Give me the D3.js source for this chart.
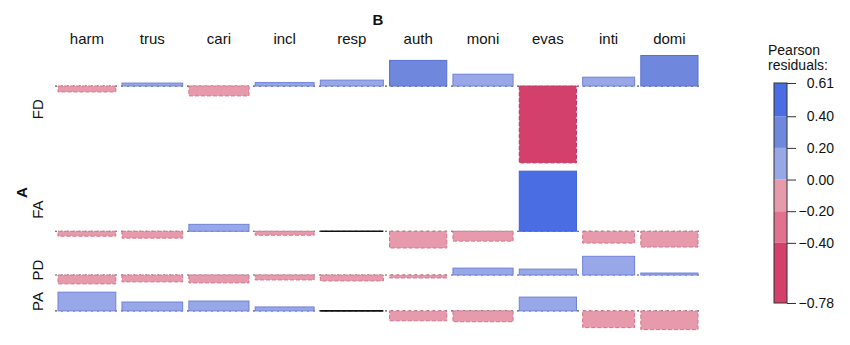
<!DOCTYPE html>
<html>
<head>
<meta charset="utf-8">
<script src="https://cdn.jsdelivr.net/npm/d3@7"></script>
<style>
  body { margin: 0; background: #fff; }
  text { font-family: "Liberation Sans", Arial, sans-serif; fill: #111; }
</style>
</head>
<body>
<svg id="assoc"></svg>
<script>
// Association plot: Pearson residuals of A (rows) x B (columns)
const colNames = ["harm", "trus", "cari", "incl", "resp", "auth", "moni", "evas", "inti", "domi"];
const rowNames = ["FD", "FA", "PD", "PA"];
// relative sqrt(expected) per column -> bar widths
const colWeight = [0.99, 1.04, 1.03, 1.01, 1.08, 0.98, 1.03, 0.98, 0.89, 0.98];
const resFD = [-0.06, 0.03, -0.10, 0.035, 0.06, 0.26, 0.12, -0.78, 0.09, 0.31];
const resFA = [-0.05, -0.07, 0.07, -0.04, 0.00, -0.17, -0.10, 0.61, -0.12, -0.16];
const resPD = [-0.09, -0.07, -0.08, -0.05, -0.06, -0.03, 0.07, 0.06, 0.19, 0.02];
const resPA = [0.19, 0.09, 0.10, 0.04, 0.00, -0.10, -0.11, 0.14, -0.17, -0.19];
const legendTicks = [0.61, 0.40, 0.20, 0.00, -0.20, -0.40, -0.78];
const legendCuts = [-0.78, -0.4, -0.2, 0, 0.2, 0.4, 0.61];

const residuals = [resFD, resFA, resPD, resPA];

const W = 850, H = 345;
const svg = d3.select("#assoc").attr("width", W).attr("height", H);

// colours
const fillCol = d3.scaleThreshold()
  .domain([-0.4, -0.2, 0, 0.2, 0.4])
  .range(["#d3406b", "#e0718f", "#e89aad", "#98a7e7", "#6f88dd", "#4a6de3"]);
const lineCol = d3.scaleThreshold()
  .domain([-0.4, -0.2, 0, 0.2, 0.4])
  .range(["#b83560", "#cc5a7b", "#d4728c", "#6f83d8", "#5670d4", "#3f62d8"]);

// x layout: cumulative column weights with a small gap
const gap = 0.106;
const colStart = [];
let acc = 0;
colWeight.forEach((w, i) => { colStart.push(acc); acc += w + (i < colWeight.length - 1 ? gap : 0); });
const x = d3.scaleLinear().domain([0, acc]).range([58, 698]);

// y layout: one linear scale per row, sized by its residual extent
const k = 98.5, rowGap = 8.3, top0 = 55.5;
let yCur = top0;
const rows = residuals.map((vals, i) => {
  const maxPos = Math.max(0, d3.max(vals));
  const maxNeg = Math.max(0, -d3.min(vals));
  const top = yCur, bottom = top + (maxPos + maxNeg) * k;
  yCur = bottom + rowGap;
  return { name: rowNames[i], vals, top, bottom,
    y: d3.scaleLinear().domain([maxPos, -maxNeg]).range([top, bottom]) };
});

const plot = svg.append("g");

rows.forEach((r, i) => {
  const g = plot.append("g");
  const y0 = r.y(0);
  // dotted baseline
  g.append("line")
    .attr("x1", x(0) - 3).attr("x2", x(acc) + 3)
    .attr("y1", y0).attr("y2", y0)
    .attr("stroke", "#555").attr("stroke-width", 1.2)
    .attr("stroke-dasharray", "2,4");

  const cells = r.vals.map((v, j) => ({ v, j }));
  g.selectAll("rect.bar")
    .data(cells.filter(d => d.v !== 0))
    .join("rect")
    .attr("class", "bar")
    .attr("x", d => x(colStart[d.j]))
    .attr("width", d => x(colStart[d.j] + colWeight[d.j]) - x(colStart[d.j]))
    .attr("y", d => Math.min(r.y(d.v), y0))
    .attr("height", d => Math.abs(r.y(d.v) - y0))
    .attr("fill", d => fillCol(d.v))
    .attr("stroke", d => lineCol(d.v))
    .attr("stroke-width", 1)
    .attr("stroke-dasharray", d => d.v < 0 ? "4,2" : null);

  // zero residuals drawn as a plain line
  g.selectAll("line.zero")
    .data(cells.filter(d => d.v === 0))
    .join("line")
    .attr("class", "zero")
    .attr("x1", d => x(colStart[d.j]))
    .attr("x2", d => x(colStart[d.j] + colWeight[d.j]))
    .attr("y1", y0).attr("y2", y0)
    .attr("stroke", "#111").attr("stroke-width", 1.6);

  // row label (last one sits between its top and baseline, as in the original)
  const mid = i === rows.length - 1 ? (r.top + y0) / 2 : (r.top + r.bottom) / 2;
  g.append("text")
    .attr("transform", `translate(43,${mid}) rotate(-90)`)
    .attr("text-anchor", "middle")
    .attr("font-size", 15)
    .text(r.name);
});

// column labels
plot.selectAll("text.col")
  .data(colNames)
  .join("text")
  .attr("class", "col")
  .attr("x", (d, j) => x(colStart[j] + colWeight[j] / 2))
  .attr("y", 44)
  .attr("text-anchor", "middle")
  .attr("font-size", 15)
  .text(d => d);

// variable names
svg.append("text")
  .attr("x", (x(0) + x(acc)) / 2).attr("y", 25)
  .attr("text-anchor", "middle")
  .attr("font-size", 15).attr("font-weight", "bold")
  .text("B");
svg.append("text")
  .attr("transform", `translate(27,${(rows[0].top + rows[rows.length - 1].bottom) / 2}) rotate(-90)`)
  .attr("text-anchor", "middle")
  .attr("font-size", 15).attr("font-weight", "bold")
  .text("A");

// legend
const ly = d3.scaleLinear().domain([0.61, -0.78]).range([83, 303]);
const leg = svg.append("g");
leg.append("text").attr("x", 768).attr("y", 55).attr("font-size", 14).text("Pearson");
leg.append("text").attr("x", 768).attr("y", 70).attr("font-size", 14).text("residuals:");

const bins = d3.pairs(legendCuts);
leg.selectAll("rect.bin")
  .data(bins)
  .join("rect")
  .attr("class", "bin")
  .attr("x", 774).attr("width", 13)
  .attr("y", d => ly(d[1]))
  .attr("height", d => ly(d[0]) - ly(d[1]))
  .attr("fill", d => fillCol((d[0] + d[1]) / 2));
leg.append("rect")
  .attr("x", 774).attr("width", 13)
  .attr("y", ly(0.61)).attr("height", ly(-0.78) - ly(0.61))
  .attr("fill", "none").attr("stroke", "#333").attr("stroke-width", 1);

const axis = d3.axisRight(ly)
  .tickValues(legendTicks)
  .tickFormat(d3.format(".2f"))
  .tickSize(9).tickPadding(38);
const ag = leg.append("g").attr("transform", "translate(787,0)").call(axis);
ag.select(".domain").remove();
ag.selectAll(".tick line").attr("stroke", "#333");
ag.selectAll(".tick text")
  .attr("text-anchor", "end")
  .attr("font-family", "Liberation Sans, Arial, sans-serif")
  .attr("font-size", 14)
  .attr("fill", "#111");
</script>
</body>
</html>
